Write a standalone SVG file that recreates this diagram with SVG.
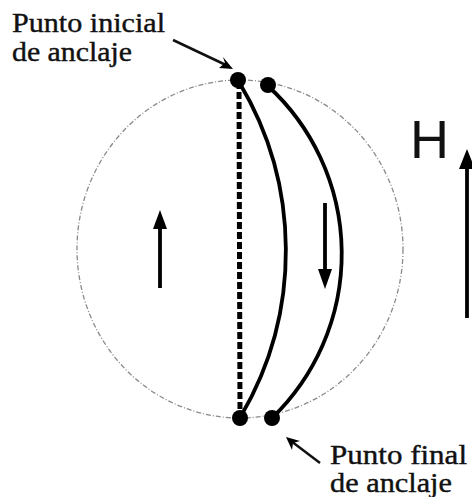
<svg xmlns="http://www.w3.org/2000/svg" width="472" height="497" viewBox="0 0 472 497">
<defs>
<style>
.lbl{font-family:"Liberation Serif","Times New Roman",serif;font-size:27px;fill:#111;stroke:#111;stroke-width:0.4}
.h{font-family:"Liberation Sans",Arial,sans-serif;font-size:54px;fill:#111}
.curve{fill:none;stroke:#000;stroke-width:3.8;stroke-linecap:round}
.arr{stroke:#000;stroke-width:3.8;fill:none}
.head{fill:#000}
.dot{fill:#000}
.ptr{stroke:#111;stroke-width:2.5;fill:none}
</style>
</defs>
<rect width="472" height="497" fill="#fff"/>
<g id="sphere">
<ellipse cx="240" cy="249" rx="163" ry="169" fill="none" stroke="#8a8a8a" stroke-width="1.3" stroke-dasharray="5 2 1 2"/>
</g>
<g id="connectors">
<line x1="239" y1="82" x2="240" y2="416" stroke="#000" stroke-width="5" stroke-dasharray="7 3"/>
<path class="curve" d="M239 82 A327 327 0 0 1 241 416"/>
<path class="curve" d="M268 86 A228 228 0 0 1 272 418"/>
<line class="ptr" x1="173" y1="40" x2="228" y2="66"/>
<path class="head" d="M233 69 L219 68 L225 63 L223 57 Z"/>
<line class="ptr" x1="320" y1="463" x2="291" y2="441"/>
<path class="head" d="M286 437 L292 450 L293 443 L300 441 Z"/>
</g>
<g id="dots">
<circle class="dot" cx="238" cy="80" r="8"/>
<circle class="dot" cx="268" cy="85" r="8"/>
<circle class="dot" cx="240" cy="418" r="8"/>
<circle class="dot" cx="272" cy="418" r="8"/>
</g>
<g id="arrow-left">
<line class="arr" x1="160" y1="288" x2="160" y2="224"/>
<path class="head" d="M160 210 L153 229 L167 229 Z"/>
</g>
<g id="arrow-down">
<line class="arr" x1="325" y1="203" x2="325" y2="274"/>
<path class="head" d="M325 289 L318 269 L332 269 Z"/>
</g>
<g id="arrow-H">
<line class="arr" x1="467" y1="318" x2="467" y2="164"/>
<path class="head" d="M467 149 L459 169 L475 169 Z"/>
<text class="h" x="410" y="158">H</text>
</g>
<g id="label-start">
<text class="lbl" x="12" y="32" textLength="153" lengthAdjust="spacingAndGlyphs">Punto inicial</text>
<text class="lbl" x="12" y="61" textLength="120" lengthAdjust="spacingAndGlyphs">de anclaje</text>
</g>
<g id="label-end">
<text class="lbl" x="330" y="464" textLength="137" lengthAdjust="spacingAndGlyphs">Punto final</text>
<text class="lbl" x="330" y="492" textLength="122" lengthAdjust="spacingAndGlyphs">de anclaje</text>
</g>
</svg>
